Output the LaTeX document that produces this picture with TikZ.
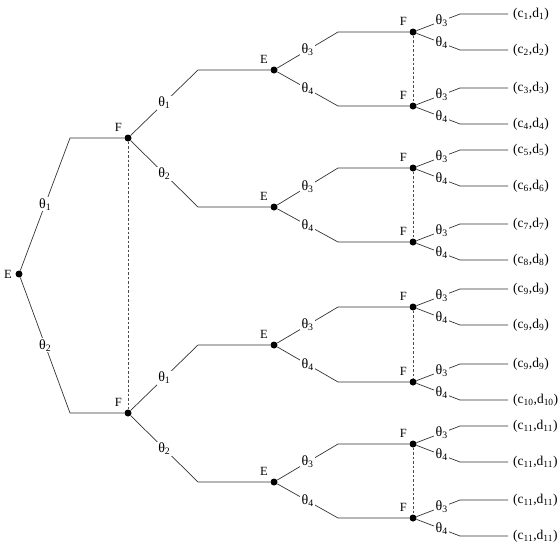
\documentclass[tikz,border=0pt]{standalone}
\usepackage{fontspec}
\setmainfont{Liberation Serif}
\begin{document}
\begin{tikzpicture}[x=1pt,y=-1pt,
  dot/.style={circle,fill=black,inner sep=0pt,minimum size=7pt},
  br/.style={draw=black!80,line width=0.7pt},
  th/.style={fill=white,inner sep=1.2pt,font=\fontsize{14}{16}\selectfont},
  nm/.style={font=\fontsize{12.5}{14}\selectfont},
  leaf/.style={anchor=west,inner xsep=5pt,inner ysep=1pt,font=\fontsize{13.5}{16}\selectfont},
  info/.style={draw=black!70,line width=0.6pt,dash pattern=on 2.5pt off 2pt}]
\useasboundingbox (0,0) rectangle (558,544);
% nodes
\node[dot,label={[nm]left:E}] (E0) at (19,274) {};
\node[dot,label={[nm]135:F}] (F1) at (128,138) {};
\node[dot,label={[nm]135:F}] (F2) at (128,413) {};
\foreach \n/\y in {1/70,2/207,3/345,4/482}
  \node[dot,label={[nm]135:E}] (H\n) at (274,\y) {};
\foreach \n/\y in {1/32,2/106,3/168,4/242,5/307,6/382,7/444,8/518}
  \node[dot,label={[nm]135:F}] (G\n) at (413,\y) {};
\foreach \n/\y/\k in {1/14/1,2/50/2,3/88/3,4/124/4,5/150/5,6/186/6,7/224/7,8/260/8,
  9/289/9,10/325/9,11/364/9,12/400/10,13/426/11,14/462/11,15/500/11,16/536/11}
  \node[leaf] (L\n) at (508,\y) {(c\textsubscript{\k},d\textsubscript{\k})};
% root branches
\draw[br] (E0) -- node[th]{θ\textsubscript{1}} ([xshift=-58pt]F1.center) -- (F1);
\draw[br] (E0) -- node[th]{θ\textsubscript{2}} ([xshift=-58pt]F2.center) -- (F2);
% level 1
\draw[br] (F1) -- node[th]{θ\textsubscript{1}} ([xshift=-76pt]H1.center) -- (H1);
\draw[br] (F1) -- node[th]{θ\textsubscript{2}} ([xshift=-76pt]H2.center) -- (H2);
\draw[br] (F2) -- node[th]{θ\textsubscript{1}} ([xshift=-76pt]H3.center) -- (H3);
\draw[br] (F2) -- node[th]{θ\textsubscript{2}} ([xshift=-76pt]H4.center) -- (H4);
% level 2
\foreach \h/\a/\b in {1/1/2,2/3/4,3/5/6,4/7/8}{
  \draw[br] (H\h) -- node[th]{θ\textsubscript{3}} ([xshift=-75pt]G\a.center) -- (G\a);
  \draw[br] (H\h) -- node[th]{θ\textsubscript{4}} ([xshift=-75pt]G\b.center) -- (G\b);
}
% level 3
\foreach \n in {1,...,8}{
  \pgfmathtruncatemacro\a{2*\n-1}
  \pgfmathtruncatemacro\b{2*\n}
  \draw[br] (G\n) -- node[th,pos=0.58]{θ\textsubscript{3}} ([xshift=-48pt]L\a.west) -- (L\a.west);
  \draw[br] (G\n) -- node[th,pos=0.58]{θ\textsubscript{4}} ([xshift=-48pt]L\b.west) -- (L\b.west);
}
% information sets
\draw[info] (F1) -- (F2);
\draw[info] (G1) -- (G2);
\draw[info] (G3) -- (G4);
\draw[info] (G5) -- (G6);
\draw[info] (G7) -- (G8);
\end{tikzpicture}
\end{document}
